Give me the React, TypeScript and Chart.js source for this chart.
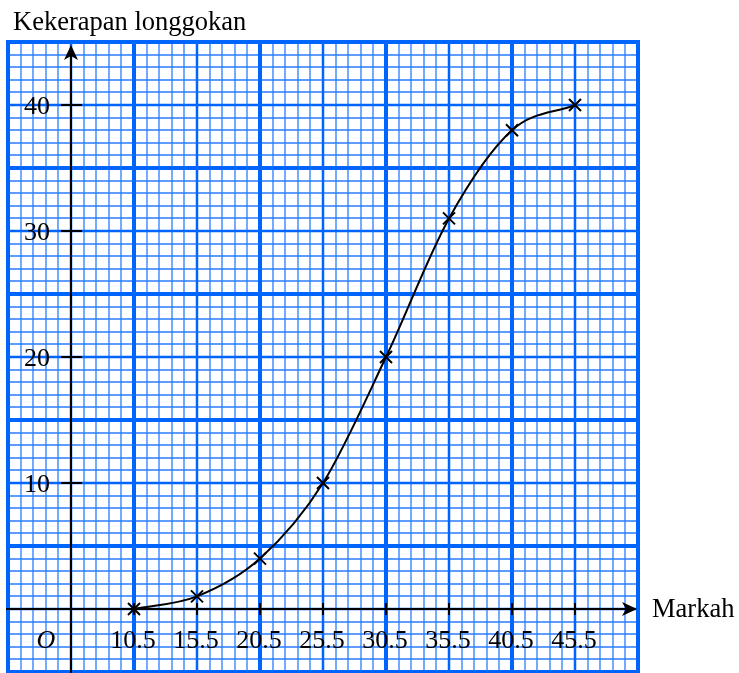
import React, { useEffect, useRef } from "react";
import { Chart, registerables } from "chart.js";

Chart.register(...registerables);

// ---- data ----
const marks = [10.5, 15.5, 20.5, 25.5, 30.5, 35.5, 40.5, 45.5];
const cumulativeFrequency = [0, 1, 4, 10, 20, 31, 38, 40];
const xTickValues = [10.5, 15.5, 20.5, 25.5, 30.5, 35.5, 40.5, 45.5];
const xTickLabels = ["10.5", "15.5", "20.5", "25.5", "30.5", "35.5", "40.5", "45.5"];
const yTickValues = [10, 20, 30, 40];
const yTickLabels = ["10", "20", "30", "40"];
const yAxisTitle = "Kekerapan longgokan";
const xAxisTitle = "Markah";
const originLabel = "O";

const X_MIN = 0.5;
const X_MAX = 50.5;
const Y_MIN = -5;
const Y_MAX = 45;
const Y_AXIS_AT = 5.5;

const MAJOR = "rgb(0,100,255)";
const MINOR = "rgb(40,125,255)";
const FONT = '"Liberation Serif", "Times New Roman", serif';

const gridPlugin = {
  id: "gridPlugin",
  beforeDatasetsDraw(chart: any) {
    const { ctx, chartArea } = chart;
    const xs = chart.scales.x;
    const ys = chart.scales.y;
    ctx.save();
    const levels = [
      { w: 1.3, c: MINOR },
      { w: 2.5, c: MAJOR },
      { w: 4, c: MAJOR },
    ];
    const xLevel = (v: number) => {
      const k = Math.round(v - X_MIN);
      return k % 10 === 0 ? 2 : k % 5 === 0 ? 1 : 0;
    };
    const yLevel = (v: number) => {
      const k = Math.round(v);
      return (k + 5) % 10 === 0 ? 2 : k % 10 === 0 ? 1 : 0;
    };
    for (let lv = 0; lv < 3; lv++) {
      ctx.lineWidth = levels[lv].w;
      ctx.strokeStyle = levels[lv].c;
      for (let v = X_MIN; v <= X_MAX + 1e-9; v += 1) {
        if (xLevel(v) !== lv) continue;
        const px = Math.round(xs.getPixelForValue(v));
        ctx.beginPath();
        ctx.moveTo(px, chartArea.top - (lv === 2 ? 2 : 0));
        ctx.lineTo(px, chartArea.bottom + (lv === 2 ? 2 : 0));
        ctx.stroke();
      }
      for (let v = Y_MIN; v <= Y_MAX + 1e-9; v += 1) {
        if (yLevel(v) !== lv) continue;
        const py = Math.round(ys.getPixelForValue(v));
        ctx.beginPath();
        ctx.moveTo(chartArea.left - (lv === 2 ? 2 : 0), py);
        ctx.lineTo(chartArea.right + (lv === 2 ? 2 : 0), py);
        ctx.stroke();
      }
    }

    // axes
    const ax = xs.getPixelForValue(Y_AXIS_AT);
    const ay = ys.getPixelForValue(0);
    ctx.strokeStyle = "#000";
    ctx.fillStyle = "#000";
    ctx.lineWidth = 2;
    const yTip = chartArea.top + 3;
    ctx.beginPath();
    ctx.moveTo(ax, chartArea.bottom + 2);
    ctx.lineTo(ax, yTip + 8);
    ctx.stroke();
    ctx.beginPath();
    ctx.moveTo(ax, yTip);
    ctx.lineTo(ax - 7, yTip + 15);
    ctx.lineTo(ax, yTip + 11);
    ctx.lineTo(ax + 7, yTip + 15);
    ctx.closePath();
    ctx.fill();
    const xTip = chartArea.right - 1;
    ctx.beginPath();
    ctx.moveTo(chartArea.left - 2, ay);
    ctx.lineTo(xTip - 8, ay);
    ctx.stroke();
    ctx.beginPath();
    ctx.moveTo(xTip, ay);
    ctx.lineTo(xTip - 15, ay - 7);
    ctx.lineTo(xTip - 11, ay);
    ctx.lineTo(xTip - 15, ay + 7);
    ctx.closePath();
    ctx.fill();
    yTickValues.forEach((v) => {
      const py = ys.getPixelForValue(v);
      ctx.beginPath();
      ctx.moveTo(ax - 10, py);
      ctx.lineTo(ax + 11, py);
      ctx.stroke();
    });
    xTickValues.forEach((v) => {
      const px = xs.getPixelForValue(v);
      ctx.beginPath();
      ctx.moveTo(px, ay - 6);
      ctx.lineTo(px, ay + 6);
      ctx.stroke();
    });
    ctx.restore();
  },
  afterDraw(chart: any) {
    const { ctx, chartArea } = chart;
    const xs = chart.scales.x;
    const ys = chart.scales.y;
    const ax = xs.getPixelForValue(Y_AXIS_AT);
    const ay = ys.getPixelForValue(0);
    ctx.save();
    ctx.fillStyle = "#000";
    ctx.font = `26px ${FONT}`;
    ctx.textBaseline = "middle";
    ctx.textAlign = "right";
    yTickValues.forEach((v, i) => {
      ctx.fillText(yTickLabels[i], ax - 21, ys.getPixelForValue(v) + 2);
    });
    ctx.textAlign = "center";
    xTickValues.forEach((v, i) => {
      ctx.fillText(xTickLabels[i], xs.getPixelForValue(v) - 1, ay + 32);
    });
    ctx.font = `italic 26px ${FONT}`;
    ctx.fillText(originLabel, ax - 25, ay + 32);
    ctx.font = `26.5px ${FONT}`;
    ctx.textAlign = "left";
    ctx.fillText(xAxisTitle, chartArea.right + 14, ay + 1);
    ctx.fillText(yAxisTitle, 13, 23);
    ctx.restore();
  },
};

export default function App() {
  const ref = useRef<HTMLCanvasElement>(null);
  useEffect(() => {
    if (!ref.current) return;
    const chart = new Chart(ref.current, {
      type: "line",
      data: {
        datasets: [
          {
            data: marks.map((m, i) => ({ x: m, y: cumulativeFrequency[i] })),
            borderColor: "#000",
            borderWidth: 2,
            cubicInterpolationMode: "monotone",
            pointStyle: "crossRot",
            pointRadius: 8.5,
            pointBorderWidth: 2,
            pointBorderColor: "#000",
            pointBackgroundColor: "#000",
            fill: false,
            clip: false,
          },
        ],
      },
      options: {
        responsive: false,
        animation: false,
        devicePixelRatio: 1,
        layout: { autoPadding: false, padding: { left: 8, right: 101, top: 42, bottom: 1 } },
        plugins: { legend: { display: false }, tooltip: { enabled: false } },
        events: [],
        scales: {
          x: { type: "linear", min: X_MIN, max: X_MAX, display: false },
          y: { type: "linear", min: Y_MIN, max: Y_MAX, display: false },
        },
      },
      plugins: [gridPlugin],
    } as any);
    return () => chart.destroy();
  }, []);
  return (
    <div style={{ position: "absolute", left: 0, top: 0, width: 739, height: 673, background: "#fff" }}>
      <canvas ref={ref} width={739} height={673} style={{ display: "block" }} />
    </div>
  );
}
